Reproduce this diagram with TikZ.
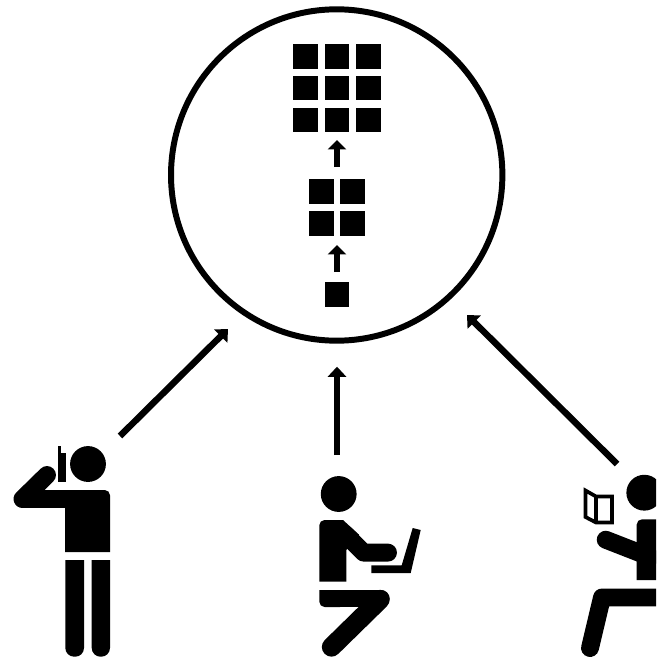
\documentclass[tikz,border=0pt]{standalone}
\usepackage{tikz}
\usetikzlibrary{arrows.meta}

\tikzset{
  tile/.style={fill=black,inner sep=0pt,minimum size=14.2pt},
  ring/.style={draw,circle,line width=3.4pt,inner sep=0pt,minimum size=188.6pt},
  bigarrow/.style={line width=3.7pt,-{Triangle[length=5.8pt,width=10.4pt]}},
  smallarrow/.style={line width=3.8pt,-{Triangle[length=5.4pt,width=10.4pt]}},
  limb/.style={line width=10.2pt,line cap=round,line join=round},
  bookline/.style={line width=2.1pt,line join=miter},
}

\begin{document}
\begin{tikzpicture}[x=.02cm,y=-.02cm]
  \useasboundingbox (0,0) rectangle (656,659);
  \clip (0,0) rectangle (656,659);

  % the circle and what grows inside it
  \node[ring] (circ) at (336.7,175) {};
  \foreach \c/\x in {1/305.2,2/337,3/368.6}
    \foreach \r/\y in {1/56.5,2/88,3/120}
      \node[tile] (nine\c\r) at (\x,\y) {};
  \foreach \c/\x in {1/321.3,2/352.5}
    \foreach \r/\y in {1/191.8,2/223.2}
      \node[tile] (four\c\r) at (\x,\y) {};
  \node[tile] (one) at (337,294.5) {};

  \coordinate (stepa) at (337,272);
  \coordinate (stepb) at (337,245);
  \coordinate (stepc) at (337,167);
  \coordinate (stepd) at (337,140);
  \draw[smallarrow] (stepa) -- (stepb);
  \draw[smallarrow] (stepc) -- (stepd);

  % arrows up to the circle
  \coordinate (phonefrom) at (120,436);
  \coordinate (phoneto) at (228,329);
  \coordinate (laptopfrom) at (337,455);
  \coordinate (laptopto) at (337,366.7);
  \coordinate (bookfrom) at (617,464);
  \coordinate (bookto) at (467,315);
  \draw[bigarrow] (phonefrom) -- (phoneto);
  \draw[bigarrow] (laptopfrom) -- (laptopto);
  \draw[bigarrow] (bookfrom) -- (bookto);

  % standing with phone
  \fill (88,464) circle (10.2pt);
  \fill (58,453) rectangle (66,482);
  \fill (58,446) rectangle (61,453);
  \draw[limb] (47,475) -- (22.5,499) -- (72,499);
  \fill (65,552) -- (65,490) [rounded corners=3pt] -- (110,490) [sharp corners] -- (110,552) -- cycle;
  \fill (65.3,560) [rounded corners=5pt] -- (65.3,656.7) -- (84,656.7) [sharp corners] -- (84,560) -- cycle;
  \fill (91.7,560) [rounded corners=5pt] -- (91.7,656.7) -- (110,656.7) [sharp corners] -- (110,560) -- cycle;

  % sitting with laptop
  \fill (338.7,494) circle (10.2pt);
  \fill (319.3,581.7) [rounded corners=3pt] -- (319.3,520) [sharp corners] -- (343,520) -- (359,534.7) -- (346.3,550) -- (346.3,581.7) -- cycle;
  \draw[limb] (388,552.6) -- (363.6,552.6) -- (345,534);
  \fill (412.7,528) -- (420.7,530) -- (410.7,573) -- (371.3,573) -- (371.3,565.3) -- (401.7,565.3) -- cycle;
  \fill (319.3,590) [rounded corners=3pt] -- (319.3,607) [sharp corners] -- (340,607) -- (340,590) -- cycle;
  \draw[limb,line width=9.8pt] (330,598.5) -- (381,598.5);
  \draw[limb,line width=11pt] (380,599.5) -- (331.5,647);

  % sitting with book
  \fill (644.3,492.7) circle (10.2pt);
  \fill (636.7,580) [rounded corners=3pt] -- (636.7,519.3) [sharp corners] -- (670,519.3) -- (670,580) -- cycle;
  \draw[limb] (605.7,539.7) -- (650,557);
  \draw[bookline] (585.5,490.5) -- (596,496.5) -- (612,496.5) -- (612,522.5) -- (596,522.5) -- (585.5,517) -- cycle;
  \draw[bookline] (596,496.5) -- (596,522.5);
  \draw[limb] (670,597.5) -- (602,597.5) -- (590,648);
\end{tikzpicture}
\end{document}
